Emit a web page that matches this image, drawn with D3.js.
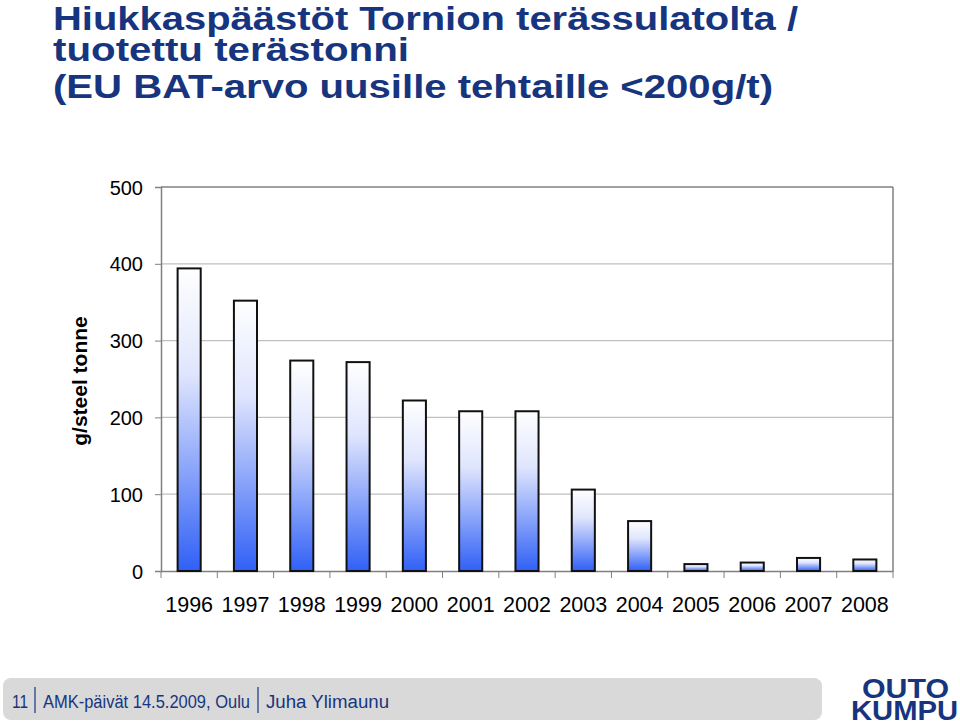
<!DOCTYPE html>
<html><head><meta charset="utf-8">
<script src="https://cdn.jsdelivr.net/npm/d3@7"></script>
<style>body{margin:0;background:#fff}svg{display:block}</style>
</head><body>
<svg id="c" width="960" height="725"></svg>
<script>
const years = ["1996","1997","1998","1999","2000","2001","2002","2003","2004","2005","2006","2007","2008"];
const values = [394, 352, 274, 272, 222, 208, 208, 106, 65, 9, 11, 17, 15];
const yTicks = [0, 100, 200, 300, 400, 500];
const titleLines = ["Hiukkaspäästöt Tornion terässulatolta /", "tuotettu terästonni", "(EU BAT-arvo uusille tehtaille <200g/t)"];
const yLabel = "g/steel tonne";
const footerParts = ["11", "AMK-päivät 14.5.2009, Oulu", "Juha Ylimaunu"];
const logoLines = ["OUTO", "KUMPU"];

const svg = d3.select("#c");
const navy = "#17357f";
const condensed = "'Liberation Sans Narrow','Arial Narrow','Liberation Sans',Arial,sans-serif";
const sans = "'Liberation Sans',Arial,Helvetica,sans-serif";

// gradient
const defs = svg.append("defs");
const g1 = defs.append("linearGradient").attr("id","bg").attr("x1",0).attr("y1",0).attr("x2",0).attr("y2",1);
g1.append("stop").attr("offset","0%").attr("stop-color","#ffffff");
g1.append("stop").attr("offset","35%").attr("stop-color","#dfe5fd");
g1.append("stop").attr("offset","100%").attr("stop-color","#3060f6");

// title (single text element, one tspan per line)
const tY = [30, 61, 98];
const tW = [745, 356, 720];
svg.append("text")
  .attr("font-family", condensed).attr("font-weight","bold").attr("font-size", 34)
  .attr("fill", navy)
  .selectAll("tspan").data(titleLines).join("tspan")
  .attr("x", 53).attr("y", (d,i)=>tY[i])
  .attr("textLength", (d,i)=>tW[i]).attr("lengthAdjust","spacingAndGlyphs")
  .text(d=>d);

const L = 161, R = 893, T = 187, B = 571;
const x = d3.scaleBand().domain(years).range([L, R]).paddingInner(0.59).paddingOuter(0.295);
const xb = d3.scaleBand().domain(years).range([L, R]);
const y = d3.scaleLinear().domain([0, 500]).range([B, T]);

// grid
svg.append("g").selectAll("line").data(yTicks.filter(d=>d>0)).join("line")
  .attr("x1", L).attr("x2", R).attr("y1", d=>y(d)).attr("y2", d=>y(d))
  .attr("stroke", d=>d===500?"#808080":"#c0c0c0").attr("stroke-width", d=>d===500?1.5:1.2);
// right border
svg.append("line").attr("x1",R).attr("x2",R).attr("y1",T).attr("y2",B).attr("stroke","#808080").attr("stroke-width",1.5);

// y axis
const ya = svg.append("g").attr("transform",`translate(${L},0)`)
  .call(d3.axisLeft(y).tickValues(yTicks).tickSize(6).tickPadding(12));
ya.select(".domain").attr("stroke","#808080").attr("stroke-width",1.5);
ya.selectAll(".tick line").attr("stroke","#808080");
ya.selectAll(".tick text").attr("font-family", sans).attr("font-size", 20).attr("fill","#000").attr("dy","0.35em");

// x axis
const xa = svg.append("g").attr("transform",`translate(0,${B})`)
  .call(d3.axisBottom(xb).tickSize(0).tickPadding(26));
xa.select(".domain").attr("stroke","#808080").attr("stroke-width",1.5);
xa.selectAll(".tick text").attr("font-family", sans).attr("font-size", 21.5).attr("fill","#000");
xa.append("g").selectAll("line").data(years).join("line")
  .attr("x1", d=>xb(d)).attr("x2", d=>xb(d)).attr("y1",0).attr("y2",7)
  .attr("stroke","#808080");
xa.append("line").attr("x1",R).attr("x2",R).attr("y1",0).attr("y2",7).attr("stroke","#808080");

// bars
svg.append("g").selectAll("rect").data(values).join("rect")
  .attr("x", (d,i)=>x(years[i])).attr("width", x.bandwidth())
  .attr("y", d=>y(d)).attr("height", d=>B - y(d))
  .attr("fill","url(#bg)").attr("stroke","#111").attr("stroke-width",2);

// y label
svg.append("text").attr("transform","translate(87,381) rotate(-90)")
  .attr("text-anchor","middle").attr("font-family", sans).attr("font-weight","bold")
  .attr("font-size", 21).attr("fill","#000").text(yLabel);

// footer
svg.append("rect").attr("x",3).attr("y",678).attr("width",819).attr("height",42).attr("rx",8)
  .attr("fill","#d9d9d9");
const fx = [12, 43, 266], fw = [16, 207, 123];
svg.append("text").attr("font-family", condensed)
  .attr("font-size",18).attr("fill",navy)
  .selectAll("tspan").data(footerParts).join("tspan")
  .attr("x",(d,i)=>fx[i]).attr("y",708)
  .attr("textLength",(d,i)=>fw[i]).attr("lengthAdjust","spacingAndGlyphs")
  .text(d=>d);
[35, 258].forEach(px=>svg.append("line").attr("x1",px).attr("x2",px).attr("y1",687).attr("y2",713).attr("stroke",navy).attr("stroke-width",1.2));

// logo
svg.append("text")
  .attr("font-family", condensed).attr("font-weight","bold").attr("font-size", 27)
  .attr("fill", navy)
  .selectAll("tspan").data(logoLines).join("tspan")
  .attr("x", (d,i)=> i===0 ? 862 : 851).attr("y", (d,i)=>[698,720][i])
  .attr("textLength", (d,i)=> i===0 ? 87 : 107).attr("lengthAdjust","spacingAndGlyphs")
  .text(d=>d);
</script>
</body></html>
